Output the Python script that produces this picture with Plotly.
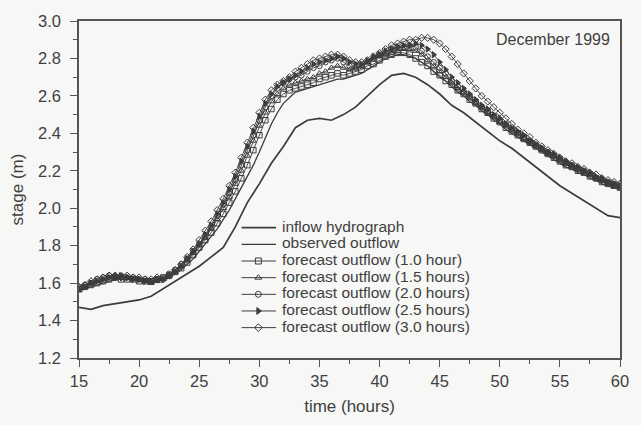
import numpy as np
import plotly.graph_objects as go

# time axis (hours)
hours_fine = np.arange(15, 60.5, 0.5)      # 0.5-hour forecast steps
hours_hourly = np.arange(15, 61, 1)        # hourly solid line

inflow = [1.47, 1.46, 1.48, 1.49, 1.50, 1.51, 1.53, 1.57, 1.61, 1.65,
          1.69, 1.74, 1.79, 1.90, 2.03, 2.13, 2.24, 2.33, 2.43, 2.47,
          2.48, 2.47, 2.50, 2.54, 2.60, 2.66, 2.71, 2.72, 2.70, 2.66,
          2.61, 2.55, 2.51, 2.46, 2.41, 2.36, 2.32, 2.27, 2.22, 2.17,
          2.12, 2.08, 2.04, 2.00, 1.96, 1.95]

observed = [1.56, 1.57, 1.58, 1.59, 1.60, 1.61, 1.62, 1.62, 1.62, 1.62,
            1.61, 1.61, 1.61, 1.61, 1.62, 1.63, 1.65, 1.67, 1.70, 1.73,
            1.77, 1.81, 1.85, 1.89, 1.94, 1.99, 2.05, 2.11, 2.17, 2.23,
            2.30, 2.38, 2.45, 2.51, 2.56, 2.59, 2.62, 2.63, 2.64, 2.65,
            2.66, 2.67, 2.68, 2.69, 2.69, 2.70, 2.71, 2.72, 2.74, 2.76,
            2.78, 2.80, 2.81, 2.82, 2.82, 2.81, 2.80, 2.78, 2.76, 2.73,
            2.70, 2.68, 2.65, 2.62, 2.60, 2.57, 2.55, 2.52, 2.50, 2.47,
            2.45, 2.42, 2.40, 2.38, 2.36, 2.34, 2.32, 2.30, 2.28, 2.26,
            2.24, 2.22, 2.21, 2.19, 2.18, 2.16, 2.15, 2.13, 2.12, 2.11,
            2.10]

fc_10 = [1.57, 1.58, 1.59, 1.60, 1.61, 1.62, 1.63, 1.62, 1.62, 1.62,
         1.61, 1.61, 1.61, 1.62, 1.63, 1.64, 1.66, 1.68, 1.71, 1.75,
         1.79, 1.83, 1.87, 1.92, 1.97, 2.03, 2.09, 2.16, 2.23, 2.31,
         2.39, 2.47, 2.53, 2.58, 2.61, 2.63, 2.64, 2.65, 2.66, 2.67,
         2.69, 2.70, 2.71, 2.72, 2.71, 2.72, 2.73, 2.74, 2.76, 2.77,
         2.79, 2.81, 2.82, 2.83, 2.83, 2.82, 2.80, 2.78, 2.76, 2.73,
         2.71, 2.68, 2.66, 2.63, 2.61, 2.58, 2.56, 2.53, 2.51, 2.48,
         2.46, 2.43, 2.41, 2.39, 2.37, 2.35, 2.33, 2.31, 2.29, 2.27,
         2.25, 2.23, 2.22, 2.20, 2.19, 2.17, 2.16, 2.14, 2.13, 2.12,
         2.11]

fc_15 = [1.56, 1.58, 1.60, 1.61, 1.62, 1.63, 1.64, 1.63, 1.63, 1.62,
         1.62, 1.61, 1.60, 1.61, 1.62, 1.64, 1.66, 1.69, 1.72, 1.76,
         1.80, 1.84, 1.89, 1.94, 2.00, 2.06, 2.13, 2.20, 2.28, 2.36,
         2.44, 2.51, 2.57, 2.61, 2.64, 2.66, 2.67, 2.68, 2.69, 2.70,
         2.72, 2.73, 2.75, 2.76, 2.75, 2.74, 2.75, 2.76, 2.78, 2.80,
         2.81, 2.82, 2.83, 2.84, 2.85, 2.85, 2.84, 2.82, 2.79, 2.76,
         2.73, 2.70, 2.67, 2.64, 2.62, 2.59, 2.56, 2.54, 2.51, 2.49,
         2.46, 2.44, 2.42, 2.40, 2.37, 2.35, 2.33, 2.31, 2.29, 2.28,
         2.26, 2.24, 2.22, 2.21, 2.19, 2.18, 2.16, 2.15, 2.13, 2.12,
         2.11]

fc_20 = [1.58, 1.59, 1.60, 1.62, 1.63, 1.64, 1.63, 1.64, 1.63, 1.63,
         1.62, 1.62, 1.61, 1.62, 1.63, 1.65, 1.67, 1.70, 1.73, 1.77,
         1.81, 1.85, 1.90, 1.96, 2.02, 2.08, 2.15, 2.23, 2.31, 2.39,
         2.47, 2.54, 2.60, 2.64, 2.67, 2.69, 2.70, 2.71, 2.73, 2.75,
         2.76, 2.78, 2.79, 2.80, 2.78, 2.76, 2.75, 2.76, 2.78, 2.80,
         2.82, 2.83, 2.85, 2.86, 2.86, 2.87, 2.86, 2.84, 2.81, 2.78,
         2.75, 2.72, 2.68, 2.65, 2.62, 2.60, 2.57, 2.54, 2.52, 2.49,
         2.47, 2.45, 2.42, 2.40, 2.38, 2.36, 2.34, 2.32, 2.30, 2.28,
         2.26, 2.24, 2.23, 2.21, 2.20, 2.18, 2.16, 2.15, 2.14, 2.13,
         2.12]

fc_25 = [1.57, 1.58, 1.60, 1.61, 1.62, 1.63, 1.63, 1.64, 1.63, 1.62,
         1.62, 1.61, 1.61, 1.62, 1.62, 1.64, 1.66, 1.69, 1.73, 1.77,
         1.81, 1.86, 1.91, 1.97, 2.03, 2.10, 2.17, 2.25, 2.33, 2.41,
         2.49, 2.56, 2.61, 2.65, 2.67, 2.69, 2.71, 2.73, 2.75, 2.77,
         2.78, 2.79, 2.80, 2.81, 2.80, 2.78, 2.77, 2.77, 2.79, 2.81,
         2.82, 2.84, 2.85, 2.86, 2.87, 2.87, 2.88, 2.87, 2.85, 2.82,
         2.78, 2.74, 2.70, 2.67, 2.64, 2.61, 2.58, 2.55, 2.53, 2.50,
         2.48, 2.45, 2.43, 2.41, 2.39, 2.36, 2.34, 2.32, 2.30, 2.29,
         2.27, 2.25, 2.23, 2.22, 2.20, 2.19, 2.17, 2.16, 2.14, 2.13,
         2.12]

fc_30 = [1.58, 1.59, 1.61, 1.62, 1.63, 1.64, 1.64, 1.63, 1.64, 1.63,
         1.63, 1.62, 1.62, 1.63, 1.62, 1.64, 1.67, 1.70, 1.74, 1.78,
         1.83, 1.88, 1.93, 1.99, 2.05, 2.12, 2.19, 2.27, 2.35, 2.43,
         2.51, 2.58, 2.63, 2.66, 2.68, 2.70, 2.73, 2.75, 2.77, 2.79,
         2.80, 2.81, 2.82, 2.82, 2.81, 2.79, 2.78, 2.78, 2.79, 2.81,
         2.83, 2.85, 2.87, 2.88, 2.89, 2.90, 2.90, 2.91, 2.91, 2.90,
         2.88, 2.85, 2.81, 2.77, 2.72, 2.68, 2.64, 2.60, 2.57, 2.54,
         2.51, 2.48, 2.45, 2.42, 2.40, 2.38, 2.35, 2.33, 2.31, 2.29,
         2.27, 2.25, 2.24, 2.22, 2.21, 2.19, 2.18, 2.16, 2.15, 2.14,
         2.13]

x_ticks = [15, 20, 25, 30, 35, 40, 45, 50, 55, 60]
y_ticks = [1.2, 1.4, 1.6, 1.8, 2.0, 2.2, 2.4, 2.6, 2.8, 3.0]

INK = "#3c3c3c"
TXT = "#3f3f3f"
AX = "#555555"
FONT = "Liberation Sans, Arial, sans-serif"

fig = go.Figure()
fig.add_trace(go.Scatter(x=hours_hourly, y=inflow, mode="lines",
                         name="inflow hydrograph",
                         line=dict(color=INK, width=1.7)))
fig.add_trace(go.Scatter(x=hours_fine, y=observed, mode="lines",
                         name="observed outflow",
                         line=dict(color=INK, width=1.3)))

fc_specs = [
    ("forecast outflow (1.0 hour)", fc_10, "square-open"),
    ("forecast outflow (1.5 hours)", fc_15, "triangle-up-open"),
    ("forecast outflow (2.0 hours)", fc_20, "circle-open"),
    ("forecast outflow (2.5 hours)", fc_25, "triangle-right"),
    ("forecast outflow (3.0 hours)", fc_30, "diamond-open"),
]
for name, vals, sym in fc_specs:
    fig.add_trace(go.Scatter(
        x=hours_fine, y=vals, mode="lines+markers", name=name,
        line=dict(color=INK, width=0.9),
        marker=dict(symbol=sym, size=5.5, color=INK,
                    line=dict(color=INK, width=1)),
    ))

# ---- custom compact legend (overlay axes spanning the plot area 0..1) ----
legend_items = [("inflow hydrograph", None, 1.7),
                ("observed outflow", None, 1.3)] + \
               [(n, s, 1.0) for n, _, s in fc_specs]
plot_w, plot_h = 549.0, 344.0
lx0, lx1, lxm, ltx = 244, 279, 261, 285   # pixel positions inside plot frame
row0, row_step = 227.0, 17.0
lab_x, lab_y, lab_t = [], [], []
for i, (name, sym, lw) in enumerate(legend_items):
    py = row0 + row_step * i
    yy = (360.0 - py) / plot_h
    fig.add_trace(go.Scatter(
        x=[(lx0 - 79) / plot_w, (lx1 - 79) / plot_w], y=[yy, yy],
        mode="lines", line=dict(color=INK, width=lw),
        xaxis="x2", yaxis="y2", showlegend=False, hoverinfo="skip"))
    if sym is not None:
        fig.add_trace(go.Scatter(
            x=[(lxm - 79) / plot_w], y=[yy], mode="markers",
            marker=dict(symbol=sym, size=6, color=INK,
                        line=dict(color=INK, width=1)),
            xaxis="x2", yaxis="y2", showlegend=False, hoverinfo="skip"))
    lab_x.append((ltx - 79) / plot_w)
    lab_y.append(yy)
    lab_t.append(name)

fig.add_trace(go.Scatter(
    x=lab_x, y=lab_y, text=lab_t, mode="text", textposition="middle right",
    textfont=dict(family=FONT, size=15.5, color=TXT),
    xaxis="x2", yaxis="y2", showlegend=False, hoverinfo="skip"))

axis_common = dict(
    showline=True, linecolor=AX, linewidth=1.5, mirror=True,
    showgrid=False, zeroline=False,
    ticks="outside", ticklen=7, tickwidth=1.3, tickcolor=AX,
    tickfont=dict(family=FONT, size=16.5, color=TXT),
)

fig.update_xaxes(range=[15, 60], tickvals=x_ticks,
                 minor=dict(ticks="outside", ticklen=4, tickwidth=1,
                            tickcolor=AX, dtick=2.5, showgrid=False),
                 title=dict(text="time (hours)", standoff=12,
                            font=dict(family=FONT, size=17, color=TXT)),
                 **axis_common)
fig.update_yaxes(range=[1.2, 3.0], tickvals=y_ticks, tickformat=".1f",
                 ticklabelstandoff=6,
                 minor=dict(ticks="outside", ticklen=4, tickwidth=1,
                            tickcolor=AX, dtick=0.1, showgrid=False),
                 title=dict(text="stage (m)", standoff=10,
                            font=dict(family=FONT, size=17, color=TXT)),
                 **axis_common)

fig.add_annotation(text="December 1999", xref="paper", yref="paper",
                   x=0.985, y=0.975, xanchor="right", yanchor="top",
                   showarrow=False,
                   font=dict(family=FONT, size=16, color=TXT))

fig.update_layout(
    width=641, height=425,
    margin=dict(l=79, r=13, t=16, b=65),
    paper_bgcolor="#f7f7f5", plot_bgcolor="#f7f7f5",
    showlegend=False,
    xaxis2=dict(overlaying="x", range=[0, 1], visible=False),
    yaxis2=dict(overlaying="y", range=[0, 1], visible=False),
)

fig.write_html("out.html")
